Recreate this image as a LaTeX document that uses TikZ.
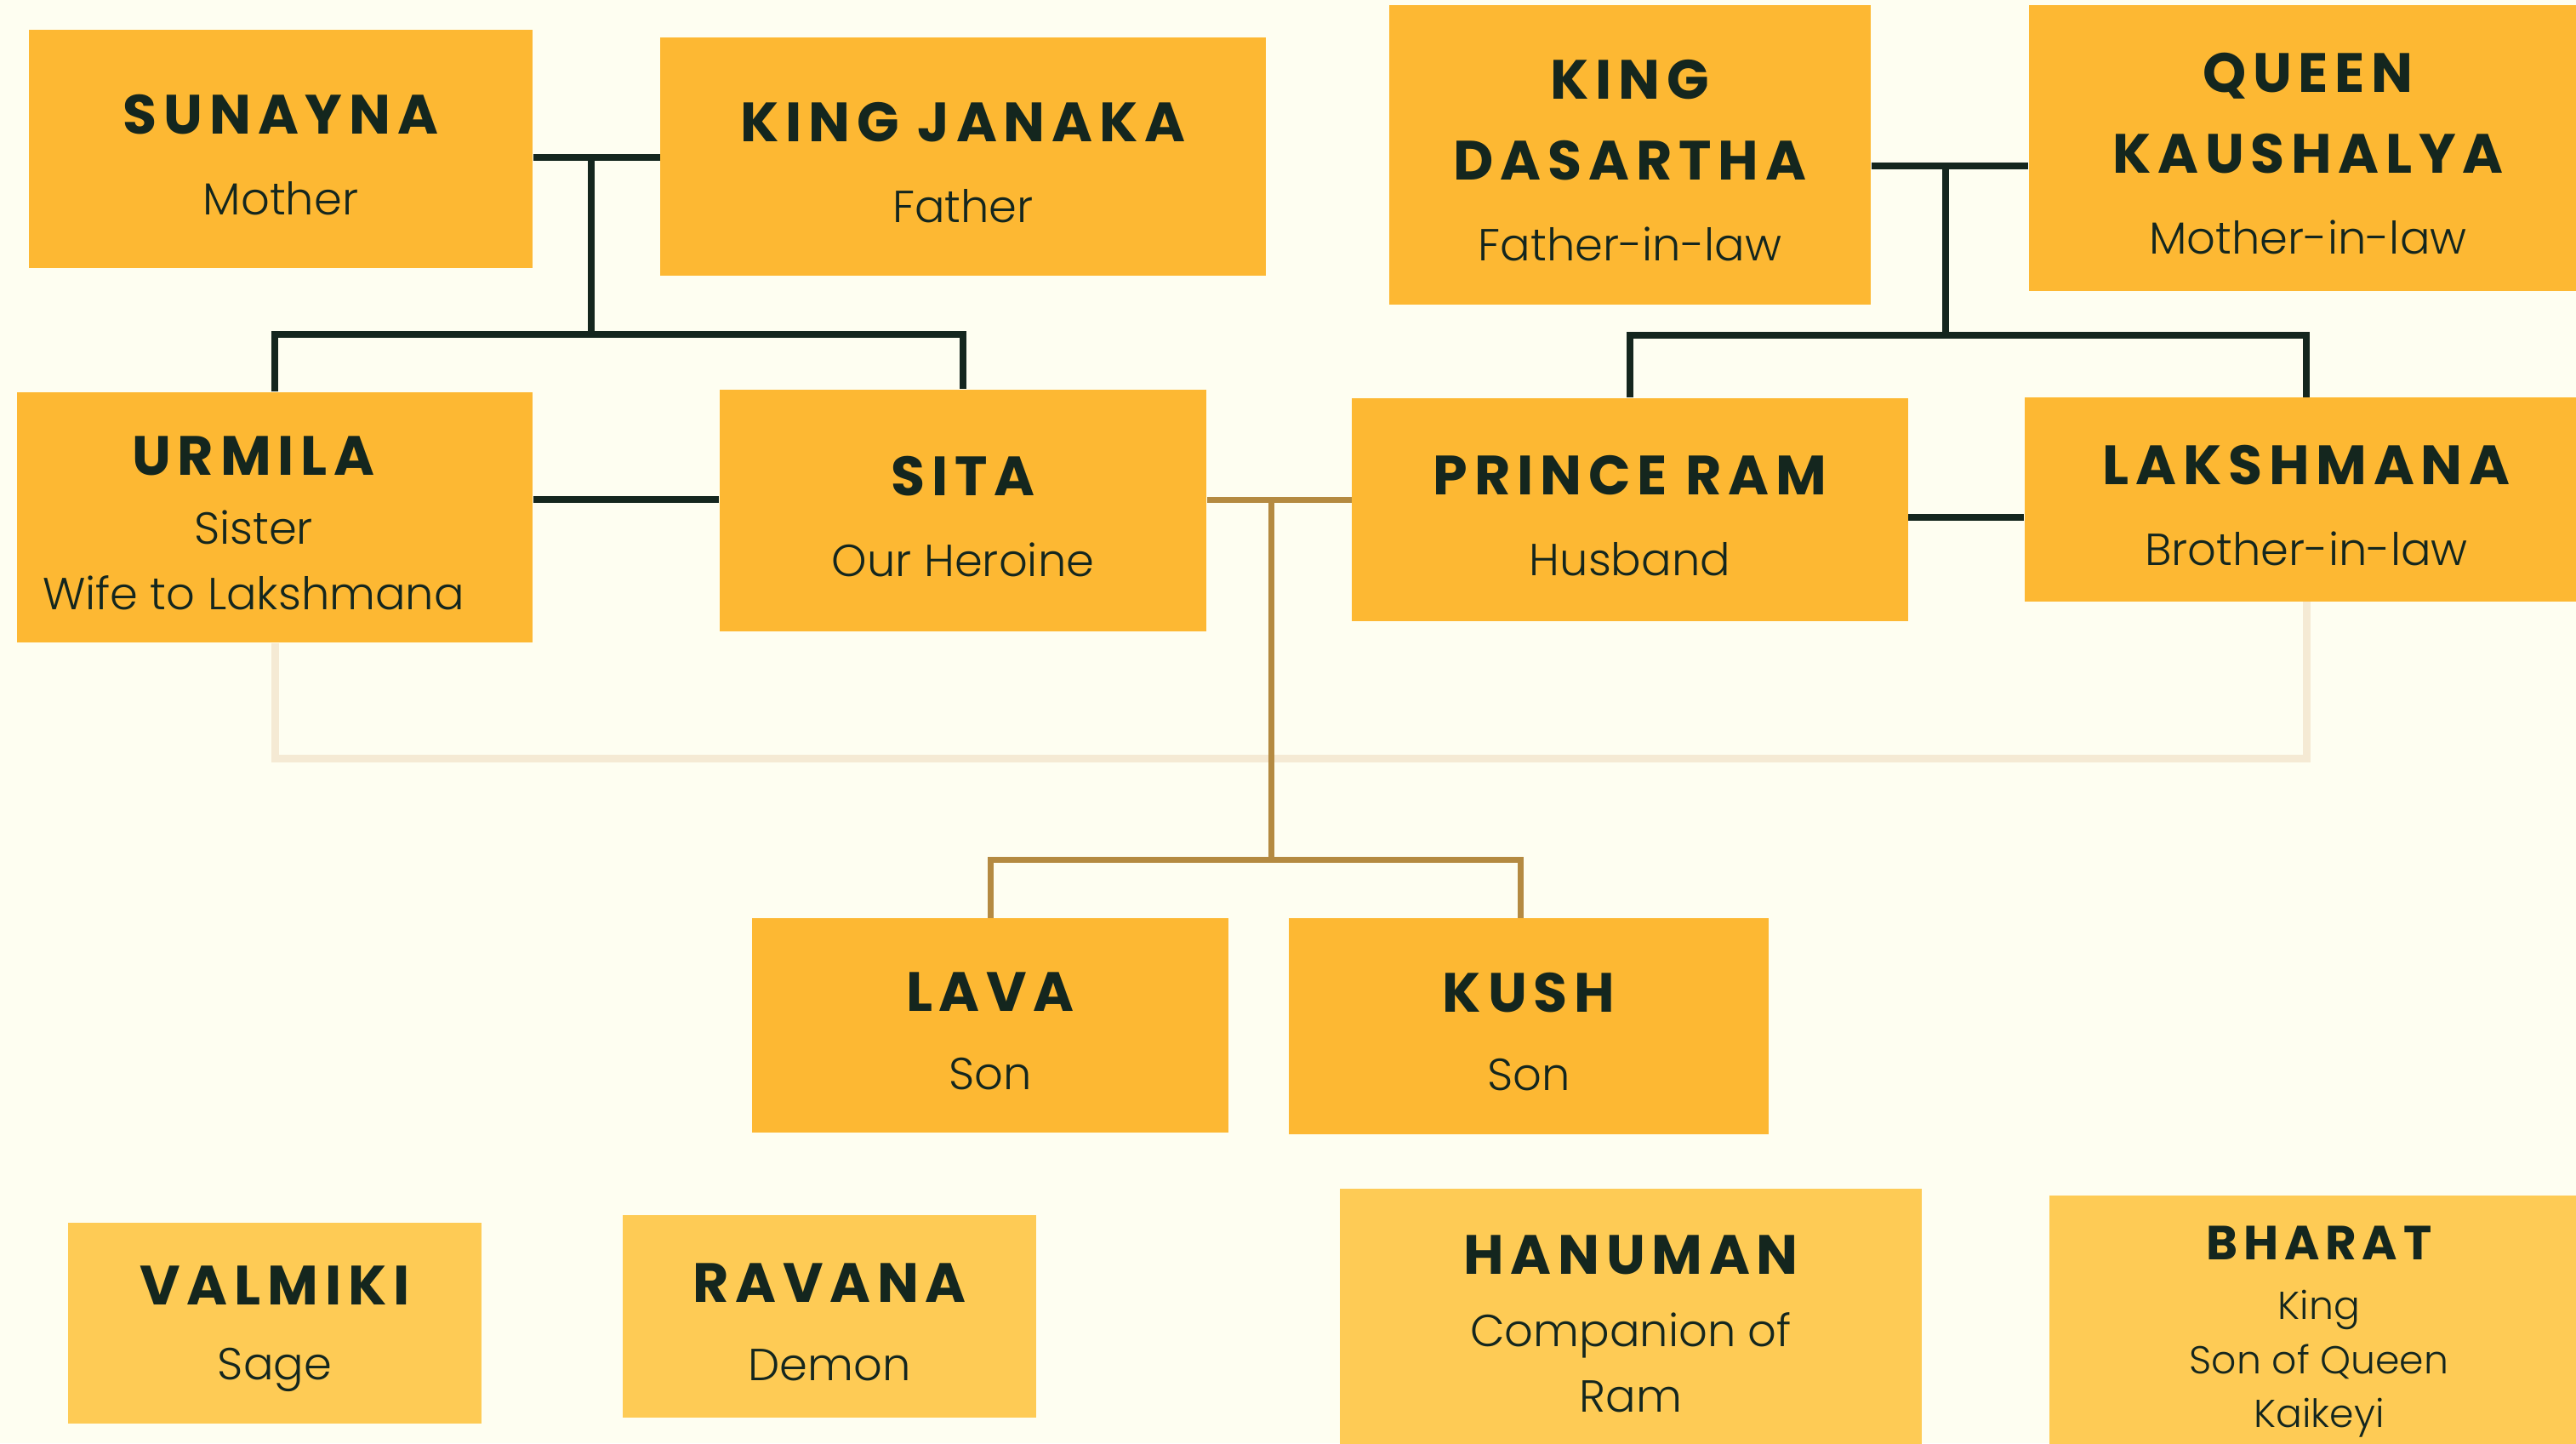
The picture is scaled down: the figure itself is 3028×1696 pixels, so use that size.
\documentclass[tikz,border=0pt]{standalone}
\usepackage{fontspec}
\setmainfont{Poppins}[UprightFont={* Light}, BoldFont={* Bold}]
\newfontfamily\namefont{Poppins}[LetterSpace=12]
\definecolor{bgcream}{HTML}{FEFEF1}
\definecolor{boxgold}{HTML}{FDB833}
\definecolor{boxpale}{HTML}{FECB55}
\definecolor{inkgreen}{HTML}{14261E}
\definecolor{ropegold}{HTML}{B48A41}
\definecolor{ropebeige}{HTML}{F5EAD4}
\newcommand\who[1]{{\namefont\bfseries\fontsize{18.5pt}{27pt}\selectfont\rule{0pt}{17pt}#1}}

\begin{document}
\begin{tikzpicture}[x=0.01cm,y=-0.01cm,
  person/.style={fill=boxgold, inner sep=0pt, align=center, text=inkgreen,
    font=\fontsize{15pt}{27pt}\selectfont},
  other/.style={person, fill=boxpale},
  kin/.style={draw=inkgreen, line width=0.08cm},
  issue/.style={draw=ropegold, line width=0.07cm},
  inlaw/.style={draw=ropebeige, line width=0.09cm}]
\useasboundingbox (0,0) rectangle (3028,1696);
\fill[bgcream] (0,0) rectangle (3028,1696);

% first row
\node[person, minimum width=5.92cm, minimum height=2.80cm] (sunayna) at (330,175) {\who{SUNAYNA}\\ Mother};
\node[person, minimum width=7.11cm, minimum height=2.80cm] (janaka) at (1132,184) {\who{KING JANAKA}\\ Father};
\node[person, minimum width=5.66cm, minimum height=3.51cm] (dasartha) at (1916,182) {\who{KING}\\ \who{DASARTHA}\\ Father-in-law};
\node[person, minimum width=6.56cm, minimum height=3.35cm] (kaushalya) at (2713,174) {\who{QUEEN}\\ \who{KAUSHALYA}\\ Mother-in-law};

% second row
\node[person, minimum width=6.06cm, minimum height=2.94cm] (urmila) at (323,608)
  {\mbox{\who{URMILA}\hspace{0.5cm}}\\[-4pt] \mbox{Sister\hspace{0.5cm}}\\[-5pt] \mbox{Wife to Lakshmana\hspace{0.5cm}}};
\node[person, minimum width=5.72cm, minimum height=2.84cm] (sita) at (1132,600) {\who{SITA}\\ Our Heroine};
\node[person, minimum width=6.53cm, minimum height=2.62cm] (ram) at (1916,599) {\who{PRINCE RAM}\\ Husband};
\node[person, minimum width=6.62cm, minimum height=2.39cm] (lakshmana) at (2711,587) {\who{LAKSHMANA}\\ Brother-in-law};

% children
\node[person, minimum width=5.60cm, minimum height=2.51cm] (lava) at (1164,1205) {\who{LAVA}\\[-1pt] Son};
\node[person, minimum width=5.63cm, minimum height=2.53cm] (kush) at (1797,1206) {\who{KUSH}\\[-1pt] Son};

% others
\node[other, minimum width=4.86cm, minimum height=2.36cm] (valmiki) at (323,1555) {\who{VALMIKI}\\[-2pt] Sage};
\node[other, minimum width=4.86cm, minimum height=2.38cm] (ravana) at (975,1547) {\who{RAVANA}\\[-1pt] Demon};
\node[other, minimum width=6.83cm, minimum height=3.04cm] (hanuman) at (1917,1549) {\who{HANUMAN}\\[-3pt] Companion of\\[-5pt] Ram};
\node[other, minimum width=6.34cm, minimum height=3.20cm, font=\fontsize{13pt}{18pt}\selectfont] (bharat) at (2726,1565)
  {{\namefont\bfseries\fontsize{16pt}{18pt}\selectfont BHARAT}\\[2pt] King\\ Son of Queen\\ Kaikeyi};

% Janaka and Sunayna
\coordinate (jm) at (695,185);
\coordinate (jb) at (695,393);
\draw[kin] (sunayna.east |- jm) -- (janaka.west |- jm);
\draw[kin] (jm) -- (jb);
\draw[kin] (urmila.north) -- (urmila.north |- jb) -- (sita.north |- jb) -- (sita.north);

% Dasartha and Kaushalya
\coordinate (dm) at (2287,195);
\coordinate (db) at (2287,394);
\draw[kin] (dasartha.east |- dm) -- (kaushalya.west |- dm);
\draw[kin] (dm) -- (db);
\draw[kin] (ram.north) -- (ram.north |- db) -- (lakshmana.north |- db) -- (lakshmana.north);

% marriages
\coordinate (um) at (0,587);
\coordinate (rm) at (0,608);
\draw[kin] (urmila.east |- um) -- (sita.west |- um);
\draw[kin] (ram.east |- rm) -- (lakshmana.west |- rm);
\coordinate (lb) at (0,891);
\draw[inlaw] (urmila.south) -- (urmila.south |- lb) -- (lakshmana.south |- lb) -- (lakshmana.south);

% Sita and Ram
\coordinate (sm) at (1494,587);
\coordinate (sb) at (1494,1010);
\coordinate (kt) at ([xshift=-0.1cm]kush.north);
\draw[issue] (sita.east |- sm) -- (ram.west |- sm);
\draw[issue] (sm) -- (sb);
\draw[issue] (lava.north) -- (lava.north |- sb) -- (kt |- sb) -- (kt);
\end{tikzpicture}
\end{document}
